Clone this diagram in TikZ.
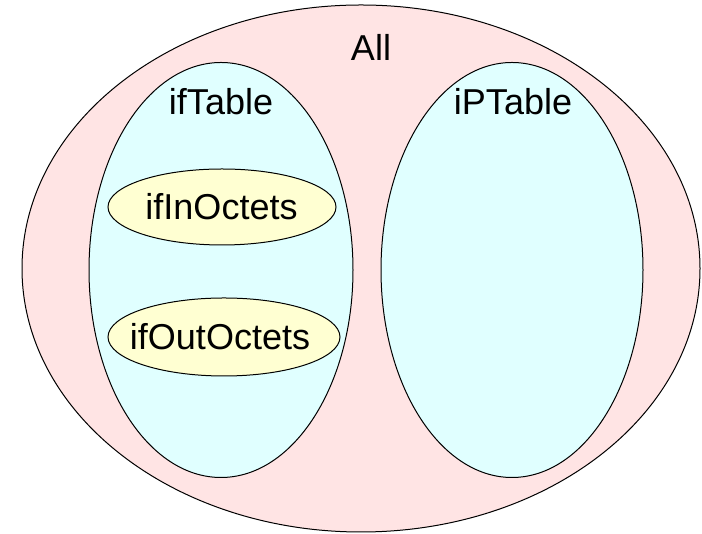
\documentclass[tikz,border=0pt]{standalone}
\usepackage{fontspec}
\setmainfont{Liberation Sans}
\usetikzlibrary{shapes.geometric}
\definecolor{allpink}{RGB}{255,228,228}
\definecolor{tabcyan}{RGB}{224,255,255}
\definecolor{octyellow}{RGB}{255,255,210}
\tikzset{
  blob/.style={ellipse, draw=black, line width=1pt, inner sep=0pt},
  lbl/.style={font=\fontsize{36}{40}\selectfont, inner sep=0pt, anchor=base}
}
\begin{document}
\begin{tikzpicture}[x=1pt,y=1pt]
\fill[white] (0,0) rectangle (702,534);
\useasboundingbox (0,0) rectangle (702,534);
\node[blob, fill=allpink, minimum width=678pt, minimum height=527pt] (all) at (361,265.5) {};
\node[blob, fill=tabcyan, minimum width=264pt, minimum height=415pt] (iftable) at (221,264) {};
\node[blob, fill=tabcyan, minimum width=262pt, minimum height=415pt] (iptable) at (512,264) {};
\node[blob, fill=octyellow, minimum width=228pt, minimum height=76pt] (ifin) at (222,327) {};
\node[blob, fill=octyellow, minimum width=232pt, minimum height=78pt] (ifout) at (224,197) {};
\node[lbl] (allL) at (371,473) {All};
\node[lbl] (iftableL) at (221,419) {ifTable};
\node[lbl] (iptableL) at (513,419) {iPTable};
\node[lbl] (ifinL) at (221.5,314) {ifInOctets};
\node[lbl] (ifoutL) at (220,184) {ifOutOctets};
\end{tikzpicture}
\end{document}
